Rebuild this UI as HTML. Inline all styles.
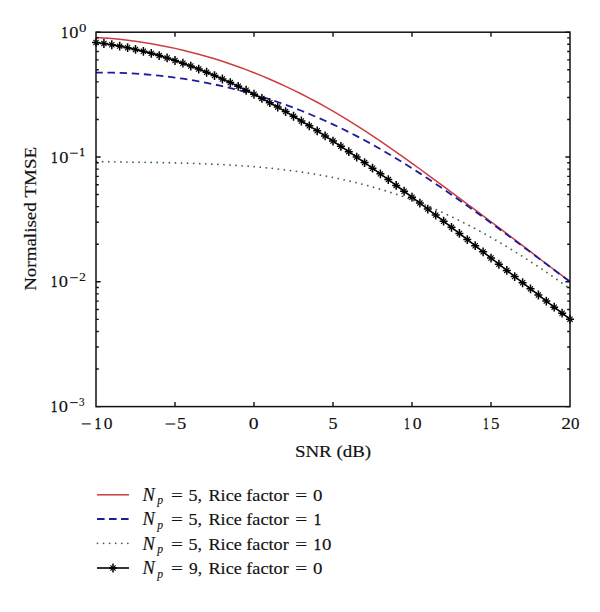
<!DOCTYPE html>
<html><head><meta charset="utf-8"><style>
html,body{margin:0;padding:0;background:#fff;}
svg{display:block;}
text{font-family:"Liberation Serif",serif;fill:#111;font-kerning:none;font-variant-ligatures:none;stroke:#111;stroke-width:0.15px;}
</style></head><body>
<svg width="600" height="612" viewBox="0 0 600 612">
<rect width="600" height="612" fill="#fff"/>
<g fill="none" stroke-linejoin="round">
<path d="M96.00,161.51 L103.90,161.66 L111.80,161.80 L119.70,161.93 L127.60,162.05 L135.50,162.17 L143.40,162.29 L151.30,162.41 L159.20,162.55 L167.10,162.71 L175.00,162.88 L182.90,163.08 L190.80,163.31 L198.70,163.57 L206.60,163.87 L214.50,164.21 L222.40,164.60 L230.30,165.04 L238.20,165.54 L246.10,166.09 L254.00,166.72 L261.90,167.41 L269.80,168.18 L277.70,169.02 L285.60,169.95 L293.50,170.97 L301.40,172.08 L309.30,173.29 L317.20,174.59 L325.10,176.01 L333.00,177.53 L340.90,179.17 L348.80,180.93 L356.70,182.81 L364.60,184.82 L372.50,186.96 L380.40,189.25 L388.30,191.67 L396.20,194.24 L404.10,196.96 L412.00,199.83 L419.90,202.87 L427.80,206.07 L435.70,209.44 L443.60,212.97 L451.50,216.66 L459.40,220.51 L467.30,224.51 L475.20,228.66 L483.10,232.95 L491.00,237.39 L498.90,241.96 L506.80,246.67 L514.70,251.51 L522.60,256.48 L530.50,261.57 L538.40,266.78 L546.30,272.11 L554.20,277.54 L562.10,283.09 L570.00,288.74" stroke="#3a6a3a" stroke-width="1.8" stroke-dasharray="0.01 6.056" stroke-dashoffset="-0.6" stroke-linecap="round"/>
<path d="M96.00,37.41 L103.90,37.93 L111.80,38.58 L119.70,39.35 L127.60,40.25 L135.50,41.28 L143.40,42.44 L151.30,43.73 L159.20,45.15 L167.10,46.70 L175.00,48.38 L182.90,50.20 L190.80,52.15 L198.70,54.23 L206.60,56.45 L214.50,58.81 L222.40,61.31 L230.30,63.94 L238.20,66.71 L246.10,69.63 L254.00,72.68 L261.90,75.87 L269.80,79.21 L277.70,82.69 L285.60,86.32 L293.50,90.09 L301.40,94.00 L309.30,98.07 L317.20,102.28 L325.10,106.64 L333.00,111.14 L340.90,115.80 L348.80,120.61 L356.70,125.56 L364.60,130.63 L372.50,135.83 L380.40,141.14 L388.30,146.55 L396.20,152.05 L404.10,157.63 L412.00,163.28 L419.90,169.00 L427.80,174.77 L435.70,180.58 L443.60,186.42 L451.50,192.29 L459.40,198.17 L467.30,204.06 L475.20,209.95 L483.10,215.85 L491.00,221.77 L498.90,227.71 L506.80,233.66 L514.70,239.65 L522.60,245.66 L530.50,251.70 L538.40,257.74 L546.30,263.76 L554.20,269.74 L562.10,275.66 L570.00,281.49" stroke="#cc3c40" stroke-width="1.5"/>
<path d="M96.00,72.55 L103.90,72.55 L111.80,72.66 L119.70,72.87 L127.60,73.20 L135.50,73.64 L143.40,74.19 L151.30,74.85 L159.20,75.64 L167.10,76.53 L175.00,77.55 L182.90,78.69 L190.80,79.94 L198.70,81.32 L206.60,82.82 L214.50,84.44 L222.40,86.19 L230.30,88.07 L238.20,90.07 L246.10,92.20 L254.00,94.45 L261.90,96.84 L269.80,99.36 L277.70,102.02 L285.60,104.80 L293.50,107.73 L301.40,110.78 L309.30,113.98 L317.20,117.31 L325.10,120.79 L333.00,124.40 L340.90,128.16 L348.80,132.05 L356.70,136.10 L364.60,140.28 L372.50,144.62 L380.40,149.09 L388.30,153.70 L396.20,158.44 L404.10,163.30 L412.00,168.28 L419.90,173.37 L427.80,178.55 L435.70,183.84 L443.60,189.21 L451.50,194.66 L459.40,200.19 L467.30,205.78 L475.20,211.44 L483.10,217.16 L491.00,222.92 L498.90,228.72 L506.80,234.56 L514.70,240.43 L522.60,246.32 L530.50,252.23 L538.40,258.14 L546.30,264.06 L554.20,269.97 L562.10,275.87 L570.00,281.75" stroke="#1c1c9c" stroke-width="1.8" stroke-dasharray="7.4 4.74" stroke-dashoffset="0.65"/>
<path d="M96.00,42.45 L103.90,43.50 L111.80,44.73 L119.70,46.12 L127.60,47.68 L135.50,49.41 L143.40,51.31 L151.30,53.37 L159.20,55.59 L167.10,57.97 L175.00,60.51 L182.90,63.21 L190.80,66.07 L198.70,69.07 L206.60,72.23 L214.50,75.55 L222.40,79.01 L230.30,82.61 L238.20,86.36 L246.10,90.24 L254.00,94.26 L261.90,98.41 L269.80,102.69 L277.70,107.09 L285.60,111.61 L293.50,116.25 L301.40,121.00 L309.30,125.86 L317.20,130.82 L325.10,135.89 L333.00,141.06 L340.90,146.31 L348.80,151.66 L356.70,157.10 L364.60,162.61 L372.50,168.20 L380.40,173.87 L388.30,179.60 L396.20,185.39 L404.10,191.24 L412.00,197.14 L419.90,203.09 L427.80,209.08 L435.70,215.12 L443.60,221.18 L451.50,227.28 L459.40,233.40 L467.30,239.55 L475.20,245.70 L483.10,251.87 L491.00,258.05 L498.90,264.23 L506.80,270.40 L514.70,276.57 L522.60,282.73 L530.50,288.87 L538.40,294.99 L546.30,301.08 L554.20,307.14 L562.10,313.17 L570.00,319.15" stroke="#000" stroke-width="1.6"/>
<path d="M92.00,42.45h8.00M96.00,38.05v8.80M99.90,43.50h8.00M103.90,39.10v8.80M107.80,44.73h8.00M111.80,40.33v8.80M115.70,46.12h8.00M119.70,41.72v8.80M123.60,47.68h8.00M127.60,43.28v8.80M131.50,49.41h8.00M135.50,45.01v8.80M139.40,51.31h8.00M143.40,46.91v8.80M147.30,53.37h8.00M151.30,48.97v8.80M155.20,55.59h8.00M159.20,51.19v8.80M163.10,57.97h8.00M167.10,53.57v8.80M171.00,60.51h8.00M175.00,56.11v8.80M178.90,63.21h8.00M182.90,58.81v8.80M186.80,66.07h8.00M190.80,61.67v8.80M194.70,69.07h8.00M198.70,64.67v8.80M202.60,72.23h8.00M206.60,67.83v8.80M210.50,75.55h8.00M214.50,71.15v8.80M218.40,79.01h8.00M222.40,74.61v8.80M226.30,82.61h8.00M230.30,78.21v8.80M234.20,86.36h8.00M238.20,81.96v8.80M242.10,90.24h8.00M246.10,85.84v8.80M250.00,94.26h8.00M254.00,89.86v8.80M257.90,98.41h8.00M261.90,94.01v8.80M265.80,102.69h8.00M269.80,98.29v8.80M273.70,107.09h8.00M277.70,102.69v8.80M281.60,111.61h8.00M285.60,107.21v8.80M289.50,116.25h8.00M293.50,111.85v8.80M297.40,121.00h8.00M301.40,116.60v8.80M305.30,125.86h8.00M309.30,121.46v8.80M313.20,130.82h8.00M317.20,126.42v8.80M321.10,135.89h8.00M325.10,131.49v8.80M329.00,141.06h8.00M333.00,136.66v8.80M336.90,146.31h8.00M340.90,141.91v8.80M344.80,151.66h8.00M348.80,147.26v8.80M352.70,157.10h8.00M356.70,152.70v8.80M360.60,162.61h8.00M364.60,158.21v8.80M368.50,168.20h8.00M372.50,163.80v8.80M376.40,173.87h8.00M380.40,169.47v8.80M384.30,179.60h8.00M388.30,175.20v8.80M392.20,185.39h8.00M396.20,180.99v8.80M400.10,191.24h8.00M404.10,186.84v8.80M408.00,197.14h8.00M412.00,192.74v8.80M415.90,203.09h8.00M419.90,198.69v8.80M423.80,209.08h8.00M427.80,204.68v8.80M431.70,215.12h8.00M435.70,210.72v8.80M439.60,221.18h8.00M443.60,216.78v8.80M447.50,227.28h8.00M451.50,222.88v8.80M455.40,233.40h8.00M459.40,229.00v8.80M463.30,239.55h8.00M467.30,235.15v8.80M471.20,245.70h8.00M475.20,241.30v8.80M479.10,251.87h8.00M483.10,247.47v8.80M487.00,258.05h8.00M491.00,253.65v8.80M494.90,264.23h8.00M498.90,259.83v8.80M502.80,270.40h8.00M506.80,266.00v8.80M510.70,276.57h8.00M514.70,272.17v8.80M518.60,282.73h8.00M522.60,278.33v8.80M526.50,288.87h8.00M530.50,284.47v8.80M534.40,294.99h8.00M538.40,290.59v8.80M542.30,301.08h8.00M546.30,296.68v8.80M550.20,307.14h8.00M554.20,302.74v8.80M558.10,313.17h8.00M562.10,308.77v8.80M566.00,319.15h8.00M570.00,314.75v8.80" stroke="#000" stroke-width="1.5"/>
<path d="M93.40,39.85l5.20,5.20M93.40,45.05l5.20,-5.20M101.30,40.90l5.20,5.20M101.30,46.10l5.20,-5.20M109.20,42.13l5.20,5.20M109.20,47.33l5.20,-5.20M117.10,43.52l5.20,5.20M117.10,48.72l5.20,-5.20M125.00,45.08l5.20,5.20M125.00,50.28l5.20,-5.20M132.90,46.81l5.20,5.20M132.90,52.01l5.20,-5.20M140.80,48.71l5.20,5.20M140.80,53.91l5.20,-5.20M148.70,50.77l5.20,5.20M148.70,55.97l5.20,-5.20M156.60,52.99l5.20,5.20M156.60,58.19l5.20,-5.20M164.50,55.37l5.20,5.20M164.50,60.57l5.20,-5.20M172.40,57.91l5.20,5.20M172.40,63.11l5.20,-5.20M180.30,60.61l5.20,5.20M180.30,65.81l5.20,-5.20M188.20,63.47l5.20,5.20M188.20,68.67l5.20,-5.20M196.10,66.47l5.20,5.20M196.10,71.67l5.20,-5.20M204.00,69.63l5.20,5.20M204.00,74.83l5.20,-5.20M211.90,72.95l5.20,5.20M211.90,78.15l5.20,-5.20M219.80,76.41l5.20,5.20M219.80,81.61l5.20,-5.20M227.70,80.01l5.20,5.20M227.70,85.21l5.20,-5.20M235.60,83.76l5.20,5.20M235.60,88.96l5.20,-5.20M243.50,87.64l5.20,5.20M243.50,92.84l5.20,-5.20M251.40,91.66l5.20,5.20M251.40,96.86l5.20,-5.20M259.30,95.81l5.20,5.20M259.30,101.01l5.20,-5.20M267.20,100.09l5.20,5.20M267.20,105.29l5.20,-5.20M275.10,104.49l5.20,5.20M275.10,109.69l5.20,-5.20M283.00,109.01l5.20,5.20M283.00,114.21l5.20,-5.20M290.90,113.65l5.20,5.20M290.90,118.85l5.20,-5.20M298.80,118.40l5.20,5.20M298.80,123.60l5.20,-5.20M306.70,123.26l5.20,5.20M306.70,128.46l5.20,-5.20M314.60,128.22l5.20,5.20M314.60,133.42l5.20,-5.20M322.50,133.29l5.20,5.20M322.50,138.49l5.20,-5.20M330.40,138.46l5.20,5.20M330.40,143.66l5.20,-5.20M338.30,143.71l5.20,5.20M338.30,148.91l5.20,-5.20M346.20,149.06l5.20,5.20M346.20,154.26l5.20,-5.20M354.10,154.50l5.20,5.20M354.10,159.70l5.20,-5.20M362.00,160.01l5.20,5.20M362.00,165.21l5.20,-5.20M369.90,165.60l5.20,5.20M369.90,170.80l5.20,-5.20M377.80,171.27l5.20,5.20M377.80,176.47l5.20,-5.20M385.70,177.00l5.20,5.20M385.70,182.20l5.20,-5.20M393.60,182.79l5.20,5.20M393.60,187.99l5.20,-5.20M401.50,188.64l5.20,5.20M401.50,193.84l5.20,-5.20M409.40,194.54l5.20,5.20M409.40,199.74l5.20,-5.20M417.30,200.49l5.20,5.20M417.30,205.69l5.20,-5.20M425.20,206.48l5.20,5.20M425.20,211.68l5.20,-5.20M433.10,212.52l5.20,5.20M433.10,217.72l5.20,-5.20M441.00,218.58l5.20,5.20M441.00,223.78l5.20,-5.20M448.90,224.68l5.20,5.20M448.90,229.88l5.20,-5.20M456.80,230.80l5.20,5.20M456.80,236.00l5.20,-5.20M464.70,236.95l5.20,5.20M464.70,242.15l5.20,-5.20M472.60,243.10l5.20,5.20M472.60,248.30l5.20,-5.20M480.50,249.27l5.20,5.20M480.50,254.47l5.20,-5.20M488.40,255.45l5.20,5.20M488.40,260.65l5.20,-5.20M496.30,261.63l5.20,5.20M496.30,266.83l5.20,-5.20M504.20,267.80l5.20,5.20M504.20,273.00l5.20,-5.20M512.10,273.97l5.20,5.20M512.10,279.17l5.20,-5.20M520.00,280.13l5.20,5.20M520.00,285.33l5.20,-5.20M527.90,286.27l5.20,5.20M527.90,291.47l5.20,-5.20M535.80,292.39l5.20,5.20M535.80,297.59l5.20,-5.20M543.70,298.48l5.20,5.20M543.70,303.68l5.20,-5.20M551.60,304.54l5.20,5.20M551.60,309.74l5.20,-5.20M559.50,310.57l5.20,5.20M559.50,315.77l5.20,-5.20M567.40,316.55l5.20,5.20M567.40,321.75l5.20,-5.20" stroke="#000" stroke-width="1.1"/>
</g>
<rect x="96.0" y="32.2" width="474.0" height="374.40000000000003" fill="none" stroke="#111" stroke-width="1.5"/>
<path d="M175.00,406.60v-4.5M175.00,32.20v4.5M254.00,406.60v-4.5M254.00,32.20v4.5M333.00,406.60v-4.5M333.00,32.20v4.5M412.00,406.60v-4.5M412.00,32.20v4.5M491.00,406.60v-4.5M491.00,32.20v4.5M96.00,157.00h4.6M570.00,157.00h-4.6M96.00,119.43h2.8M570.00,119.43h-2.8M96.00,97.46h2.8M570.00,97.46h-2.8M96.00,81.86h2.8M570.00,81.86h-2.8M96.00,69.77h2.8M570.00,69.77h-2.8M96.00,59.89h2.8M570.00,59.89h-2.8M96.00,51.53h2.8M570.00,51.53h-2.8M96.00,44.29h2.8M570.00,44.29h-2.8M96.00,37.91h2.8M570.00,37.91h-2.8M96.00,281.80h4.6M570.00,281.80h-4.6M96.00,244.23h2.8M570.00,244.23h-2.8M96.00,222.26h2.8M570.00,222.26h-2.8M96.00,206.66h2.8M570.00,206.66h-2.8M96.00,194.57h2.8M570.00,194.57h-2.8M96.00,184.69h2.8M570.00,184.69h-2.8M96.00,176.33h2.8M570.00,176.33h-2.8M96.00,169.09h2.8M570.00,169.09h-2.8M96.00,162.71h2.8M570.00,162.71h-2.8M96.00,406.60h4.6M570.00,406.60h-4.6M96.00,369.03h2.8M570.00,369.03h-2.8M96.00,347.06h2.8M570.00,347.06h-2.8M96.00,331.46h2.8M570.00,331.46h-2.8M96.00,319.37h2.8M570.00,319.37h-2.8M96.00,309.49h2.8M570.00,309.49h-2.8M96.00,301.13h2.8M570.00,301.13h-2.8M96.00,293.89h2.8M570.00,293.89h-2.8M96.00,287.51h2.8M570.00,287.51h-2.8M96.00,32.20h4.5M570.00,32.20h-4.5" stroke="#111" stroke-width="1.4" fill="none"/>
<g>
<rect x="81.80" y="423.35" width="9.00" height="1.1" fill="#111"/><text transform="translate(94.78,428.90) scale(0.7304,1)" font-size="17.5" style="stroke-width:0.55px">1</text><text transform="translate(103.64,428.90) scale(0.9977,1)" font-size="17.5">0</text><rect x="165.60" y="423.45" width="9.60" height="1.1" fill="#111"/><text transform="translate(177.02,428.90) scale(1.0639,1)" font-size="17.5">5</text><text transform="translate(248.85,428.90) scale(1.1191,1)" font-size="17.5">0</text><text transform="translate(328.55,428.90) scale(1.0355,1)" font-size="17.5">5</text><text transform="translate(404.53,428.90) scale(0.5681,1)" font-size="17.5" style="stroke-width:0.55px">1</text><text transform="translate(412.73,428.90) scale(1.0112,1)" font-size="17.5">0</text><text transform="translate(483.53,428.90) scale(0.5681,1)" font-size="17.5" style="stroke-width:0.55px">1</text><text transform="translate(491.12,428.90) scale(0.9646,1)" font-size="17.5">5</text><text transform="translate(561.24,428.90) scale(1.1118,1)" font-size="17.5">2</text><text transform="translate(571.05,428.90) scale(0.9707,1)" font-size="17.5">0</text><text transform="translate(61.40,38.30) scale(0.7142,1)" font-size="17.5" style="stroke-width:0.55px">1</text><text transform="translate(69.30,38.30) scale(1.0516,1)" font-size="17.5">0</text><text transform="translate(51.30,162.80) scale(0.7142,1)" font-size="17.5" style="stroke-width:0.55px">1</text><text transform="translate(59.20,162.80) scale(1.0516,1)" font-size="17.5">0</text><text transform="translate(50.90,287.30) scale(0.7142,1)" font-size="17.5" style="stroke-width:0.55px">1</text><text transform="translate(58.80,287.30) scale(1.0516,1)" font-size="17.5">0</text><text transform="translate(50.90,412.20) scale(0.7142,1)" font-size="17.5" style="stroke-width:0.55px">1</text><text transform="translate(58.80,412.20) scale(1.0516,1)" font-size="17.5">0</text><text transform="translate(79.03,32.30) scale(1.2184,1)" font-size="12.2">0</text><rect x="70.20" y="152.70" width="7.60" height="1.0" fill="#111"/><text transform="translate(79.65,156.30) scale(0.7916,1)" font-size="12.2" style="stroke-width:0.55px">1</text><rect x="70.20" y="277.20" width="7.60" height="1.0" fill="#111"/><text transform="translate(79.32,280.80) scale(1.0837,1)" font-size="12.2">2</text><rect x="70.20" y="402.10" width="7.60" height="1.0" fill="#111"/><text transform="translate(79.07,405.80) scale(0.9128,1)" font-size="12.2">3</text><text transform="translate(294.93,456.60) scale(1.0823,1)" font-size="17.5">SNR (dB)</text><text transform="translate(35.6,290.85) rotate(-90) scale(1.0859,1)" font-size="17.5">Normalised TMSE</text>
</g>
<g fill="none">
<path d="M97,494.8H129" stroke="#cc3c40" stroke-width="1.5"/>
<path d="M97,519H129" stroke="#1c1c9c" stroke-width="1.8" stroke-dasharray="7.6 4.4"/>
<path d="M97.5,543.3H128.5" stroke="#3a6a3a" stroke-width="1.8" stroke-dasharray="0.01 6.056" stroke-linecap="round"/>
<path d="M97,568H129" stroke="#000" stroke-width="1.6"/>
<path d="M109.00,568.00h8.00M113.00,563.60v8.80" stroke="#000" stroke-width="1.5"/><path d="M110.40,565.40l5.20,5.20M110.40,570.60l5.20,-5.20" stroke="#000" stroke-width="1.1"/>
</g>
<g>
<text transform="translate(142.44,500.60) scale(0.9975,1)" font-size="18.5" font-style="italic" stroke-width="0">N</text><text transform="translate(157.29,504.20) scale(0.8693,1)" font-size="13.5" font-style="italic" stroke-width="0">p</text><text transform="translate(171.05,500.60) scale(1.2034,1)" font-size="17.5">=</text><text transform="translate(188.55,500.60) scale(1.0358,1)" font-size="17.5">5,</text><text transform="translate(208.48,500.60) scale(1.0393,1)" font-size="17.5">Rice factor</text><text transform="translate(295.24,500.60) scale(1.2157,1)" font-size="17.5">=</text><text transform="translate(312.88,500.60) scale(1.0786,1)" font-size="17.5">0</text><text transform="translate(142.44,525.20) scale(0.9975,1)" font-size="18.5" font-style="italic" stroke-width="0">N</text><text transform="translate(157.29,528.80) scale(0.8693,1)" font-size="13.5" font-style="italic" stroke-width="0">p</text><text transform="translate(171.05,525.20) scale(1.2034,1)" font-size="17.5">=</text><text transform="translate(188.55,525.20) scale(1.0358,1)" font-size="17.5">5,</text><text transform="translate(208.48,525.20) scale(1.0393,1)" font-size="17.5">Rice factor</text><text transform="translate(295.24,525.20) scale(1.2157,1)" font-size="17.5">=</text><text transform="translate(313.95,525.20) scale(0.8116,1)" font-size="17.5" style="stroke-width:0.55px">1</text><text transform="translate(142.44,549.80) scale(0.9975,1)" font-size="18.5" font-style="italic" stroke-width="0">N</text><text transform="translate(157.29,553.40) scale(0.8693,1)" font-size="13.5" font-style="italic" stroke-width="0">p</text><text transform="translate(171.05,549.80) scale(1.2034,1)" font-size="17.5">=</text><text transform="translate(188.55,549.80) scale(1.0358,1)" font-size="17.5">5,</text><text transform="translate(208.48,549.80) scale(1.0393,1)" font-size="17.5">Rice factor</text><text transform="translate(295.24,549.80) scale(1.2157,1)" font-size="17.5">=</text><text transform="translate(314.00,549.80) scale(0.7791,1)" font-size="17.5" style="stroke-width:0.55px">1</text><text transform="translate(321.98,549.80) scale(1.0786,1)" font-size="17.5">0</text><text transform="translate(142.44,574.40) scale(0.9975,1)" font-size="18.5" font-style="italic" stroke-width="0">N</text><text transform="translate(157.29,578.00) scale(0.8693,1)" font-size="13.5" font-style="italic" stroke-width="0">p</text><text transform="translate(171.05,574.40) scale(1.2034,1)" font-size="17.5">=</text><text transform="translate(189.04,574.40) scale(0.9949,1)" font-size="17.5">9,</text><text transform="translate(208.48,574.40) scale(1.0393,1)" font-size="17.5">Rice factor</text><text transform="translate(295.24,574.40) scale(1.2157,1)" font-size="17.5">=</text><text transform="translate(312.88,574.40) scale(1.0786,1)" font-size="17.5">0</text>
</g>
</svg>
</body></html>
